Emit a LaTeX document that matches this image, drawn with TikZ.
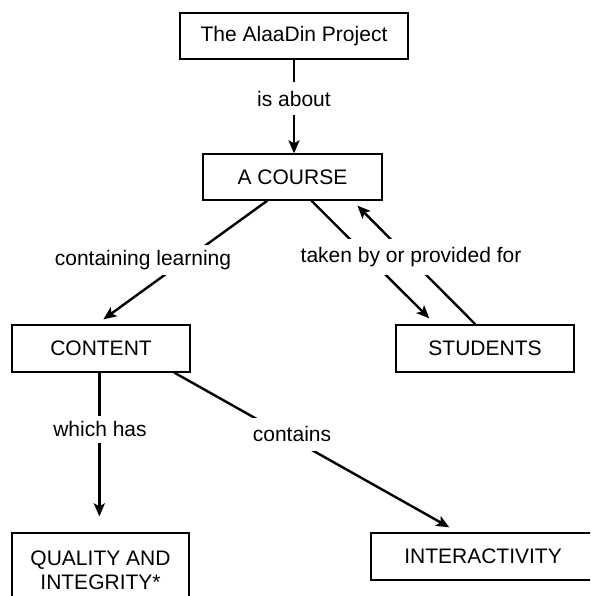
\documentclass[tikz,border=0pt]{standalone}
\usepackage{fontspec}
\setmainfont{Liberation Sans}
\usetikzlibrary{arrows.meta}
\begin{document}
\begin{tikzpicture}[x=1pt,y=-1pt,
  box/.style={draw=black,line width=1.3pt,fill=white,inner sep=0pt,
    font=\fontsize{21pt}{24pt}\selectfont,align=center},
  link/.style={line width=2.4pt},
  arr/.style={link,-{Stealth[length=13pt,width=11pt,inset=3pt]}},
  lbl/.style={fill=white,inner xsep=2pt,inner ysep=0pt,
    font=\fontsize{21pt}{24pt}\selectfont}]
\useasboundingbox (0,0) rectangle (590,596);
\clip (0,0) rectangle (590,596);

% concept boxes
\node[box,minimum width=228pt,minimum height=46pt] (proj) at (294,36) {The AlaaDin Project};
\node[box,minimum width=179pt,minimum height=46pt] (course) at (292.5,177) {A COURSE};
\node[box,minimum width=178pt,minimum height=47pt] (content) at (101,348.5) {CONTENT};
\node[box,minimum width=178pt,minimum height=47pt] (students) at (485,348.5) {STUDENTS};
\node[box,minimum width=177pt,minimum height=74pt] (quality) at (100.5,570) {QUALITY AND\\INTEGRITY*};
\node[box,minimum width=224pt,minimum height=47pt] (inter) at (483,556.5) {INTERACTIVITY};

% links between concepts
\draw[arr] (proj.south) -- (proj.south |- course.north);
\draw[arr] ([xshift=65pt]course.south west) -- ([xshift=92pt,yshift=5pt]content.north west);
\draw[arr] ([xshift=109pt]course.south west) -- ([xshift=34pt,yshift=6pt]students.north west);
\draw[arr] ([xshift=80pt]students.north west) -- ([xshift=155pt,yshift=-5pt]course.south west);
\draw[arr] ([xshift=88pt]content.south west) -- ([xshift=88pt,yshift=16pt]quality.north west);
\draw[arr] ([xshift=163pt]content.south west) -- ([xshift=79pt,yshift=5pt]inter.north west);

% link phrases
\node[lbl,minimum height=33pt] (l1) at (294,99) {is about};
\node[lbl,minimum height=30pt] (l2) at (143,260) {containing learning};
\node[lbl,minimum height=36pt] (l3) at (411,257) {taken by or provided for};
\node[lbl,minimum height=27pt] (l4) at (100,429) {which has};
\node[lbl,minimum height=33pt] (l5) at (292,434) {contains};
\end{tikzpicture}
\end{document}
